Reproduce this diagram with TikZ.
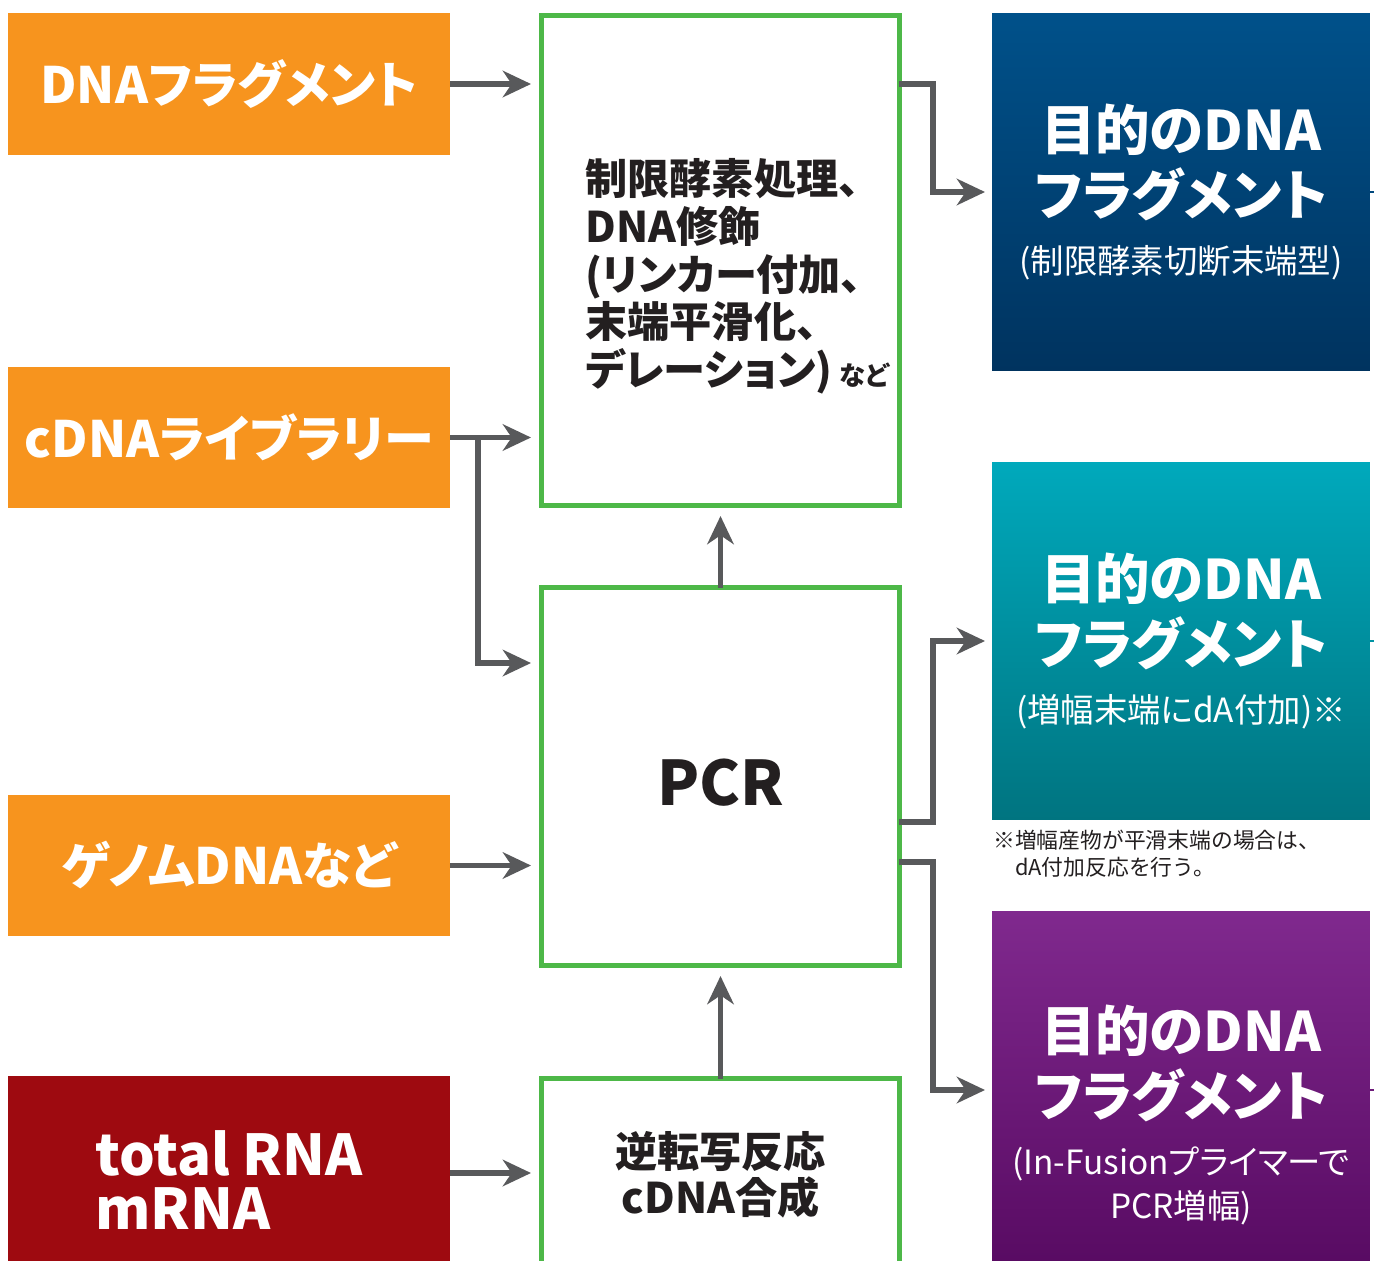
\documentclass[tikz,border=0pt]{standalone}
\usepackage{fontspec}
\setmainfont{Noto Sans CJK JP}
\usetikzlibrary{arrows.meta,positioning}

\definecolor{srcorange}{HTML}{F7941E}
\definecolor{rnared}{HTML}{9E0A10}
\definecolor{stepgreen}{HTML}{4DB848}
\definecolor{arrowgray}{HTML}{58595B}
\definecolor{ink}{HTML}{231F20}
\definecolor{blueA}{HTML}{00518A}
\definecolor{blueB}{HTML}{00335F}
\definecolor{tealA}{HTML}{00A9BC}
\definecolor{tealB}{HTML}{007480}
\definecolor{purpA}{HTML}{80298E}
\definecolor{purpB}{HTML}{52065C}

\newcommand{\subline}{\mdseries\fontsize{19}{23}\selectfont}
\newcommand{\tightkana}{\addfontfeature{RawFeature=+palt}}

\tikzset{
  srcbox/.style={fill=srcorange, text=white, minimum width=8.84cm, minimum height=2.84cm,
    font=\bfseries\tightkana\fontsize{28.5}{30}\selectfont},
  stepbox/.style={draw=stepgreen, line width=2.8pt, fill=white, minimum width=7.16cm,
    outer sep=0pt, text=ink, font=\bfseries\fontsize{24}{26}\selectfont},
  steptext/.style={inner sep=0pt, align=left, text=ink, font=\bfseries\tightkana\fontsize{24}{27.2}\selectfont},
  goalbox/.style={minimum width=7.56cm, text=white, align=center, outer sep=0pt,
    font=\bfseries\tightkana\fontsize{31}{37}\selectfont},
  arr/.style={draw=arrowgray, line width=3.4pt, -{Stealth[length=16pt,width=15pt,inset=5pt]},
    shorten >=6pt},
  stub/.style={line width=1.6pt},
}

\begin{document}
\begin{tikzpicture}[x=0.02cm,y=-0.02cm]
  \clip (0,0) rectangle (1374,1261);
  \fill[white] (0,0) rectangle (1374,1261);
  %% sources
  \node[srcbox] (dnafrag) at (229,84) {DNAフラグメント};
  \node[srcbox] (cdnalib) at (229,437.5) {cDNAライブラリー};
  \node[srcbox] (genome) at (229,865.5) {ゲノムDNAなど};
  \node[srcbox, fill=rnared, minimum height=4.16cm, align=left,
    font=\bfseries\fontsize{32}{31}\selectfont] (rna) at (229,1180) {total RNA\\mRNA};
  %% steps
  \node[stepbox, minimum height=9.8cm] (treat) at (720.5,260.5) {};
  \node[steptext, anchor=north west] (treatlbl) at ([xshift=0.87cm,yshift=-2.85cm]treat.north west)
    {制限酵素処理、\\DNA修飾\\(リンカー付加、\\末端平滑化、\\デレーション)\,{\fontsize{15}{15}\selectfont など}};
  \node[stepbox, minimum height=7.56cm, text height=33.5pt,
    font=\bfseries\fontsize{35}{40}\selectfont] (pcr) at (720.5,776.5) {PCR};
  \node[stepbox, minimum height=3.86cm, align=center] (rt) at (720.5,1175) {逆転写反応\\cDNA合成};
  %% goals
  \node[goalbox, top color=blueA, bottom color=blueB, minimum height=7.16cm] (goalcut) at (1181,192)
    {目的のDNA\\フラグメント\\[-4pt]{\subline (制限酵素切断末端型)}};
  \node[goalbox, top color=tealA, bottom color=tealB, minimum height=7.16cm] (goalda) at (1181,641)
    {目的のDNA\\フラグメント\\[-4pt]{\subline (増幅末端にdA付加)※}};
  \node[goalbox, top color=purpA, bottom color=purpB, minimum height=8.16cm] (goalinf) at (1181,1115)
    {目的のDNA\\フラグメント\\[-4pt]{\subline (In-Fusionプライマーで}\\[-12pt]{\subline PCR増幅)}};
  \node[anchor=north west, inner sep=0pt, align=left, text=ink, font=\fontsize{12.4}{15.3}\selectfont]
    (note) at ([xshift=0.02cm,yshift=-0.2cm]goalda.south west) {※増幅産物が平滑末端の場合は、\\　dA付加反応を行う。};
  %% inputs
  \draw[arr] (dnafrag.east) -- (dnafrag.east -| treat.west);
  \draw[arr] (cdnalib.east) -- (cdnalib.east -| treat.west);
  \draw[arr] ([xshift=0.56cm]cdnalib.east) |- ([yshift=2.27cm]pcr.west);
  \draw[arr] (genome.east) -- (genome.east -| pcr.west);
  \draw[arr] ([yshift=0.14cm]rna.east) -- ([yshift=0.14cm]rna.east -| rt.west);
  \draw[arr] (pcr.north) -- (treat.south);
  \draw[arr] (rt.north) -- (pcr.south);
  %% outputs
  \draw[arr, shorten >=4pt] (treat.east |- dnafrag.east) -- ++(0.67cm,0) |- (goalcut.west);
  \draw[arr, shorten >=4pt] ([yshift=-0.91cm]pcr.east) -- ++(0.67cm,0) |- (goalda.west);
  \draw[arr, shorten >=4pt] ([yshift=-1.71cm]pcr.east) -- ++(0.67cm,0) |- ([yshift=0.5cm]goalinf.west);
  %% stubs on the right edge
  \draw[stub, blueA!70!blueB] (goalcut.east) -- ++(0.1cm,0);
  \draw[stub, tealA!60!tealB] (goalda.east) -- ++(0.1cm,0);
  \draw[stub, purpA!60!purpB] ([yshift=0.5cm]goalinf.east) -- ++(0.1cm,0);
\end{tikzpicture}
\end{document}
